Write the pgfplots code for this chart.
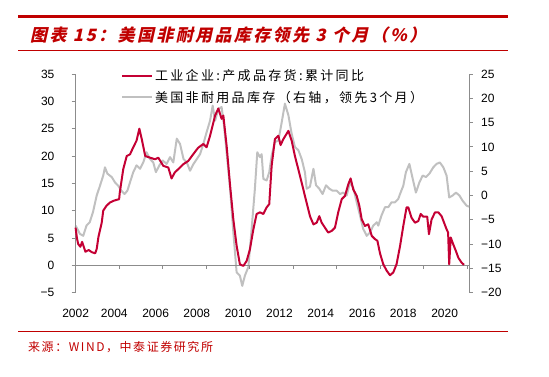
\documentclass[border=0pt]{standalone}
\usepackage{fontspec}
\setmainfont{Liberation Sans}
\newfontfamily\cjk{Noto Sans CJK SC}
\newfontfamily\legfont{Noto Sans CJK SC}[LetterSpace=18]
\newfontfamily\srcfont{Noto Sans CJK SC}[LetterSpace=13]
\newfontfamily\titlefont{Noto Sans CJK SC}[FakeSlant=0.22, LetterSpace=14]
\usepackage{pgfplots}
\pgfplotsset{compat=1.18}
\definecolor{tred}{RGB}{192,0,0}
\definecolor{sred}{RGB}{196,0,52}
\definecolor{sgray}{RGB}{192,192,192}
\definecolor{axgray}{RGB}{140,140,140}
\begin{document}
\begin{tikzpicture}
\useasboundingbox (0pt,0pt) rectangle (549pt,377pt);
\draw[tred, line width=2.5pt] (18pt,360.3pt) -- (508pt,360.3pt);
\draw[tred, line width=0.8pt] (18pt,327pt) -- (508pt,327pt);
\draw[tred, line width=0.8pt] (18pt,46pt) -- (508pt,46pt);
\node[anchor=base west, inner sep=0pt, text=tred, font=\titlefont\bfseries\fontsize{17}{20}\selectfont] at (30pt,335pt) {图表 15：美国非耐用品库存领先 3 个月（\%）};
\node[anchor=base west, inner sep=0pt, text=tred, font=\srcfont\fontsize{12}{14}\selectfont] at (28pt,25pt) {来源：WIND，中泰证券研究所};

% right axis (gray)
\begin{axis}[at={(75.6pt,84.3pt)}, anchor=south west, scale only axis,
  width=393.4pt, height=218.7pt,
  xmin=2002, xmax=2020.08, ymin=-20, ymax=25,
  axis y line*=right, axis x line=none,
  ytick={-20,-15,...,25},
  yticklabels={−20,−15,−10,−5,0,5,10,15,20,25},
  tick align=outside, major tick length=4pt,
  y axis line style={axgray, line width=0.8pt},
  ytick style={axgray, line width=0.8pt},
  yticklabel style={font=\fontsize{12}{14}\selectfont, inner sep=0pt, anchor=west, xshift=8pt},
  /pgf/number format/assume math mode=true,
  clip=false]
\addplot[sgray, line width=2pt, line join=round] coordinates {
(2002.00,-6.2) (2002.20,-7.9) (2002.35,-8.3) (2002.50,-6.2) (2002.65,-5.5) (2002.80,-3.4)
(2002.97,0.0) (2003.12,2.0) (2003.27,4.1) (2003.35,5.8) (2003.46,4.5) (2003.66,3.8)
(2003.81,2.7) (2003.96,2.0) (2004.10,1.0) (2004.25,0.3) (2004.38,1.0) (2004.50,2.7)
(2004.65,4.8) (2004.80,6.2) (2004.96,5.5) (2005.11,6.8) (2005.26,8.9) (2005.42,7.5)
(2005.57,6.8) (2005.69,4.8) (2005.85,6.2) (2006.00,7.2) (2006.18,6.5) (2006.34,7.9)
(2006.49,6.8) (2006.65,11.7) (2006.80,10.6) (2006.96,7.5) (2007.11,6.8) (2007.26,5.1)
(2007.42,6.5) (2007.57,7.5) (2007.72,8.5) (2007.87,10.6) (2008.02,13.0) (2008.18,15.4)
(2008.30,18.5) (2008.41,15.4) (2008.56,17.8) (2008.71,18.2) (2008.82,14.4) (2008.94,8.9)
(2009.10,1.4) (2009.25,-7.6) (2009.40,-15.8) (2009.55,-16.5) (2009.66,-18.6) (2009.78,-16.5)
(2009.94,-14.7) (2010.09,-6.9) (2010.24,1.4) (2010.35,8.9) (2010.47,7.9) (2010.55,8.5)
(2010.63,3.4) (2010.78,3.1) (2010.90,4.8) (2011.01,8.2) (2011.16,11.0) (2011.32,11.3)
(2011.47,15.0) (2011.62,18.9) (2011.78,16.5) (2011.93,12.7) (2012.08,10.0) (2012.24,9.3)
(2012.39,7.5) (2012.54,4.8) (2012.62,1.4) (2012.77,1.8) (2012.93,5.5) (2013.05,2.1)
(2013.20,1.4) (2013.35,0.3) (2013.51,2.1) (2013.66,1.4) (2013.81,1.0) (2014.00,1.0)
(2014.15,0.3) (2014.30,0.6) (2014.46,0.0) (2014.61,2.7) (2014.76,1.6) (2014.92,-1.4)
(2015.07,-4.1) (2015.22,-6.9) (2015.38,-8.3) (2015.53,-7.6) (2015.68,-6.2) (2015.84,-5.5)
(2015.91,-6.2) (2016.06,-4.1) (2016.22,-2.4) (2016.37,-2.4) (2016.52,-1.4) (2016.68,-1.4)
(2016.83,-0.7) (2016.91,0.3) (2017.06,2.0) (2017.18,4.8) (2017.34,6.5) (2017.49,3.5)
(2017.64,0.6) (2017.80,2.7) (2017.95,4.1) (2018.10,3.8) (2018.26,4.5) (2018.44,5.8)
(2018.59,6.5) (2018.74,6.8) (2018.90,5.8) (2019.05,4.1) (2019.17,-0.4) (2019.33,0.0)
(2019.48,0.6) (2019.64,0.0) (2019.79,-1.1) (2019.97,-2.1) (2020.08,-2.3)
};
\end{axis}

% left axis (red)
\begin{axis}[at={(75.6pt,84.3pt)}, anchor=south west, scale only axis,
  width=393.4pt, height=218.7pt,
  xmin=2002, xmax=2020.08, ymin=-5, ymax=35,
  axis y line*=left, axis x line*=bottom,
  x axis line style={draw=none},
  xtick={2002.0,2003.78,2005.68,2007.57,2009.47,2011.37,2013.27,2015.17,2017.06,2018.96},
  xticklabels={2002,2004,2006,2008,2010,2012,2014,2016,2018,2020},
  xtick style={draw=none},
  xticklabel style={font=\fontsize{12}{14}\selectfont, inner sep=0pt, anchor=north, yshift=-12pt},
  ytick={-5,0,...,35},
  yticklabels={−5,0,5,10,15,20,25,30,35},
  tick align=outside, major tick length=4pt,
  y axis line style={axgray, line width=0.8pt},
  ytick style={axgray, line width=0.8pt},
  yticklabel style={font=\fontsize{12}{14}\selectfont, inner sep=0pt, anchor=east, xshift=-17pt},
  /pgf/number format/assume math mode=true,
  legend style={at={(rel axis cs:0.115,1.03)}, anchor=north west, draw=none, fill=none,
    font=\legfont\fontsize{13}{15}\selectfont, row sep=5pt, inner sep=0pt},
  legend cell align=left,
  legend image code/.code={\draw[#1] (0pt,0pt) -- (30pt,0pt);},
  clip=false]
\draw[axgray, line width=0.8pt] (axis cs:2002,0) -- (axis cs:2020.08,0);
\pgfplotsinvokeforeach{2004,2006,2008,2010,2012,2014,2016,2018,2020}{
  \draw[axgray, line width=0.8pt] (axis cs:#1,0) -- ++(0pt,-4pt);
}
\addplot[sred, line width=2pt, line join=round] coordinates {
(2002.00,6.9) (2002.06,5.0) (2002.12,3.9) (2002.22,3.4) (2002.30,4.3) (2002.45,2.5)
(2002.60,2.8) (2002.75,2.4) (2002.90,2.2) (2002.97,3.0) (2003.05,5.2) (2003.20,7.8)
(2003.27,10.0) (2003.42,10.9) (2003.58,11.5) (2003.74,11.8) (2003.90,12.0) (2004.00,12.1)
(2004.03,13.3) (2004.19,17.6) (2004.35,20.0) (2004.50,20.3) (2004.65,21.6) (2004.80,22.8)
(2004.93,25.0) (2005.04,23.1) (2005.20,20.0) (2005.42,19.7) (2005.65,19.4) (2005.80,19.7)
(2006.03,18.2) (2006.26,17.9) (2006.41,15.9) (2006.56,17.0) (2006.80,17.9) (2006.95,18.5)
(2007.18,19.1) (2007.40,20.3) (2007.63,21.5) (2007.87,22.2) (2008.02,21.6) (2008.18,23.7)
(2008.41,27.4) (2008.56,28.7) (2008.71,26.8) (2008.79,27.4) (2008.94,21.9) (2009.10,14.6)
(2009.25,8.4) (2009.40,3.6) (2009.55,0.2) (2009.71,-0.1) (2009.86,0.8) (2010.01,2.9)
(2010.17,6.6) (2010.32,9.4) (2010.47,9.7) (2010.63,9.4) (2010.78,10.6) (2010.90,11.2)
(2011.01,18.2) (2011.16,23.1) (2011.32,23.7) (2011.42,22.0) (2011.55,23.1) (2011.78,24.6)
(2011.93,22.8) (2012.08,20.0) (2012.31,16.4) (2012.54,12.7) (2012.77,9.0) (2012.93,7.5)
(2013.08,7.8) (2013.20,9.0) (2013.31,7.8) (2013.46,6.9) (2013.61,6.0) (2013.77,6.3)
(2013.92,6.9) (2014.07,9.7) (2014.23,12.1) (2014.38,12.7) (2014.53,14.8) (2014.64,15.9)
(2014.76,13.9) (2014.92,12.7) (2015.04,10.9) (2015.15,8.4) (2015.30,7.2) (2015.45,7.5)
(2015.61,5.4) (2015.76,4.8) (2015.87,4.5) (2015.99,2.2) (2016.14,0.2) (2016.30,-1.0)
(2016.45,-1.8) (2016.60,-1.3) (2016.75,0.2) (2016.91,3.5) (2017.06,7.2) (2017.21,10.6)
(2017.29,10.6) (2017.44,8.7) (2017.60,7.8) (2017.75,8.1) (2017.86,9.4) (2017.98,8.9)
(2018.16,8.9) (2018.24,5.7) (2018.36,8.4) (2018.52,9.7) (2018.67,9.7) (2018.82,9.0)
(2019.05,6.6) (2019.12,6.0) (2019.17,0.2) (2019.24,5.1) (2019.36,3.8) (2019.48,2.6)
(2019.59,1.4) (2019.74,0.5) (2019.85,0.1)
};
\addlegendentry{工业企业:产成品存货:累计同比}
\addlegendimage{sgray, line width=2pt}
\addlegendentry{美国非耐用品库存（右轴，领先3个月）}
\end{axis}
\end{tikzpicture}
\end{document}
